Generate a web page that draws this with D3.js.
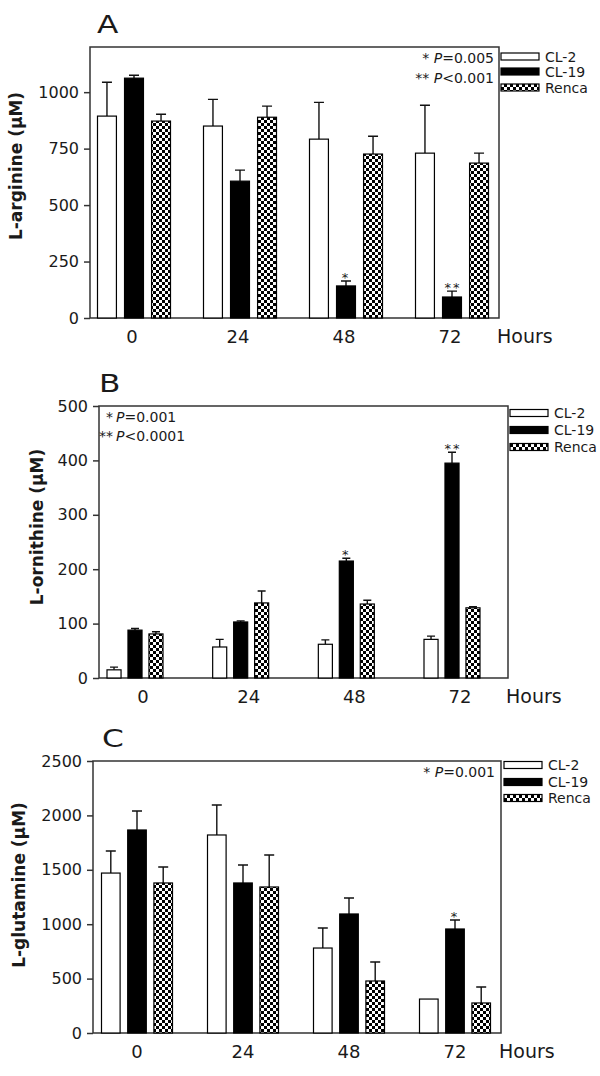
<!DOCTYPE html>
<html>
<head>
<meta charset="utf-8">
<script src="https://cdn.jsdelivr.net/npm/d3@7"></script>
<style>
  body { margin: 0; background: #fff; }
  text { font-family: "DejaVu Sans", sans-serif; fill: #1a1a1a; }
</style>
</head>
<body>
<svg id="fig" width="600" height="1076"></svg>
<script>
// categories
const hours = ["0", "24", "48", "72"];
const lines = ["CL-2", "CL-19", "Renca"];

// A: L-arginine
const argCL2 = [894, 850, 792, 730];
const argCL2Err = [150, 118, 163, 212];
const argCL19 = [1062, 606, 142, 93];
const argCL19Err = [13, 49, 22, 26];
const argRenca = [872, 889, 726, 686];
const argRencaErr = [30, 49, 79, 44];
const argStars = ["", "", "*", "**"];
const argTicks = [0, 250, 500, 750, 1000];
const argNotes = ["* P=0.005", "** P<0.001"];

// B: L-ornithine
const ornCL2 = [15, 57, 62, 71];
const ornCL2Err = [5, 14, 8, 6];
const ornCL19 = [88, 103, 215, 395];
const ornCL19Err = [3, 2, 5, 20];
const ornRenca = [81, 138, 136, 129];
const ornRencaErr = [4, 22, 7, 2];
const ornStars = ["", "", "*", "**"];
const ornTicks = [0, 100, 200, 300, 400, 500];
const ornNotes = ["* P=0.001", "** P<0.0001"];

// C: L-glutamine
const glnCL2 = [1470, 1820, 781, 312];
const glnCL2Err = [203, 276, 184, 0];
const glnCL19 = [1866, 1379, 1094, 956];
const glnCL19Err = [174, 165, 147, 83];
const glnRenca = [1379, 1342, 478, 276];
const glnRencaErr = [147, 294, 175, 147];
const glnStars = ["", "", "", "*"];
const glnTicks = [0, 500, 1000, 1500, 2000, 2500];
const glnNotes = ["* P=0.001"];

const svg = d3.select("#fig");

// checker pattern for Renca
const pat = svg.append("defs").append("pattern")
  .attr("id", "checker")
  .attr("patternUnits", "userSpaceOnUse")
  .attr("width", 6).attr("height", 6);
pat.append("rect").attr("width", 6).attr("height", 6).attr("fill", "#fff");
pat.append("rect").attr("width", 3).attr("height", 3).attr("fill", "#000");
pat.append("rect").attr("x", 3).attr("y", 3).attr("width", 3).attr("height", 3).attr("fill", "#000");

const fills = ["#fff", "#000", "url(#checker)"];

function addNote(g, str, x, y, anchor) {
  const i = str.indexOf("P");
  const t = g.append("text")
    .attr("x", x).attr("y", y)
    .attr("text-anchor", anchor)
    .style("font-size", "14px");
  t.append("tspan").text(str.slice(0, i));
  t.append("tspan").style("font-style", "italic").text("P");
  t.append("tspan").text(str.slice(i + 1));
}

function drawPanel(p) {
  const g = svg.append("g");

  const y = d3.scaleLinear().domain([0, p.max]).range([p.base, p.top]);
  const gx = d3.scalePoint().domain(hours).range(p.centers);
  const inner = d3.scaleBand().domain(lines)
    .range([-p.half, p.half]).paddingInner(p.pad);

  // y axis
  const ax = g.append("g")
    .attr("transform", `translate(${p.x0},0)`)
    .call(d3.axisLeft(y).tickValues(p.ticks).tickFormat(d3.format("d"))
      .tickSize(6).tickPadding(5));
  ax.select(".domain").remove();
  ax.selectAll(".tick line").attr("stroke", "#333").attr("stroke-width", 1.5);
  ax.selectAll(".tick text")
    .attr("fill", "#1a1a1a")
    .style("font-size", "16px");

  // frame
  g.append("path")
    .attr("d", `M${p.x0},${p.base}V${p.top}H${p.x1}V${p.base}H${p.x0}`)
    .attr("fill", "none").attr("stroke", "#333").attr("stroke-width", 1.5);

  // bars
  p.means.forEach((vals, s) => {
    vals.forEach((v, i) => {
      const bx = gx(hours[i]) + inner(lines[s]);
      const bw = inner.bandwidth();
      const cx = bx + bw / 2;
      const e = p.errs[s][i];
      if (e > 0) {
        g.append("path")
          .attr("d", `M${cx},${y(v)}V${y(v + e)}M${cx - p.cap / 2},${y(v + e)}H${cx + p.cap / 2}`)
          .attr("stroke", "#111").attr("stroke-width", 1.4).attr("fill", "none");
      }
      g.append("rect")
        .attr("x", bx).attr("y", y(v))
        .attr("width", bw).attr("height", p.base - y(v))
        .attr("fill", fills[s])
        .attr("stroke", "#000").attr("stroke-width", 1.2);
      if (s === 1 && p.stars[i]) {
        g.append("text")
          .attr("x", cx).attr("y", y(v + e) + 1)
          .attr("dx", p.stars[i].length > 1 ? 1 : 0)
          .attr("text-anchor", "middle")
          .style("font-size", "13px")
          .style("letter-spacing", "2px")
          .text(p.stars[i]);
      }
    });
  });

  // x labels
  hours.forEach(h => {
    g.append("text")
      .attr("x", gx(h) + p.labelDx).attr("y", p.labelY)
      .attr("text-anchor", "middle")
      .style("font-size", "18px")
      .text(h);
  });
  g.append("text")
    .attr("x", p.x1 - 2).attr("y", p.labelY)
    .style("font-size", "19px")
    .text("Hours");

  // y label
  g.append("text")
    .attr("transform", `translate(${p.yLab[0]},${p.yLab[1]}) rotate(-90)`)
    .attr("text-anchor", "middle")
    .style("font-size", "17px")
    .style("font-weight", "bold")
    .text(p.label);

  // panel letter
  g.append("g")
    .attr("transform", `translate(${p.letter[1]},${p.letter[2]}) scale(1.25,1)`)
    .append("text")
    .style("font-size", "25px")
    .text(p.letter[0]);

  // legend
  lines.forEach((name, s) => {
    const cy = p.legend.ys[s];
    g.append("rect")
      .attr("x", p.legend.x).attr("y", cy - 3.5)
      .attr("width", 38).attr("height", 7)
      .attr("fill", fills[s])
      .attr("stroke", "#000").attr("stroke-width", 1.2);
    g.append("text")
      .attr("x", p.legend.x + 44).attr("y", cy + 5)
      .style("font-size", "14px")
      .text(name);
  });

  // significance notes
  p.notes.forEach((n, k) => {
    if (p.noteAnchor === "end") {
      addNote(g, n, p.noteX, p.noteY[k], "end");
    } else {
      const i = n.indexOf("P");
      g.append("text")
        .attr("x", p.noteX - 3).attr("y", p.noteY[k])
        .attr("text-anchor", "end")
        .style("font-size", "14px")
        .text(n.slice(0, i).trim());
      addNote(g, n.slice(i), p.noteX, p.noteY[k], "start");
    }
  });
}

drawPanel({
  letter: ["A", 97, 33], label: "L-arginine (µM)", yLab: [22, 166],
  x0: 90, x1: 499, top: 47, base: 318, max: 1200, ticks: argTicks,
  centers: [134, 452], half: 36.5, pad: 0.3, cap: 10,
  means: [argCL2, argCL19, argRenca], errs: [argCL2Err, argCL19Err, argRencaErr],
  stars: argStars, labelDx: -2, labelY: 343,
  legend: { x: 501, ys: [56.5, 71.5, 87.5] },
  notes: argNotes, noteAnchor: "end", noteX: 494, noteY: [63, 83]
});

drawPanel({
  letter: ["B", 99, 392], label: "L-ornithine (µM)", yLab: [43, 527],
  x0: 99, x1: 508, top: 406, base: 678, max: 500, ticks: ornTicks,
  centers: [135, 452], half: 28, pad: 0.33, cap: 8,
  means: [ornCL2, ornCL19, ornRenca], errs: [ornCL2Err, ornCL19Err, ornRencaErr],
  stars: ornStars, labelDx: 8, labelY: 703,
  legend: { x: 510, ys: [413, 430, 447] },
  notes: ornNotes, noteAnchor: "start", noteX: 116, noteY: [422, 441]
});

drawPanel({
  letter: ["C", 102, 747], label: "L-glutamine (µM)", yLab: [25, 885],
  x0: 93, x1: 501, top: 761, base: 1033, max: 2500, ticks: glnTicks,
  centers: [137, 455], half: 35.5, pad: 0.29, cap: 10,
  means: [glnCL2, glnCL19, glnRenca], errs: [glnCL2Err, glnCL19Err, glnRencaErr],
  stars: glnStars, labelDx: 0, labelY: 1058,
  legend: { x: 504, ys: [765, 782, 798] },
  notes: glnNotes, noteAnchor: "end", noteX: 495, noteY: [777]
});
</script>
</body>
</html>
